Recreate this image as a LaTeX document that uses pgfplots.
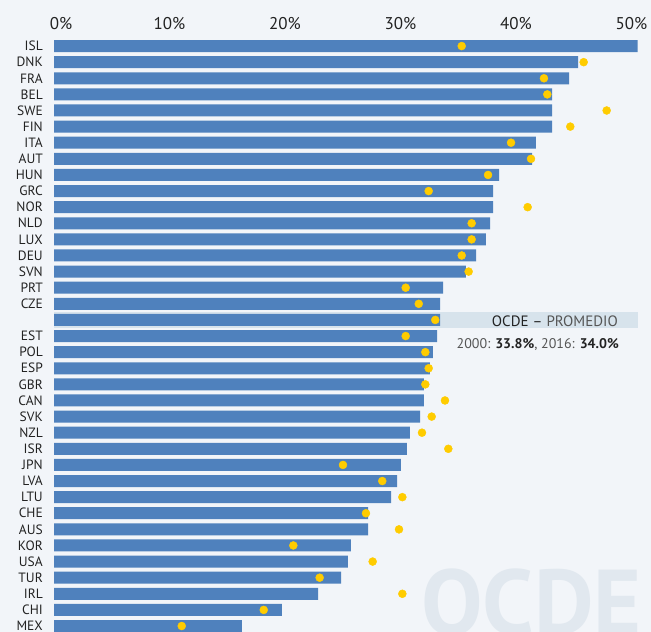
\documentclass[border=0pt]{standalone}
\usepackage{pgfplots}
\pgfplotsset{compat=1.18}
\usepackage{pgfplotstable}
\usepackage{fontspec}
\setmainfont{PT Sans}
\definecolor{bg}{HTML}{F2F5F9}
\definecolor{barblue}{HTML}{4F81BD}
\definecolor{dotyellow}{HTML}{FFCC00}
\definecolor{band}{HTML}{D7E3EC}
\definecolor{wm}{HTML}{E1E8EF}
\definecolor{txtdark}{HTML}{222222}
\definecolor{txtgray}{HTML}{555555}
\pgfplotstableread{
idx v2016 v2000
0 50.53 35.30
1 45.37 45.86
2 44.59 42.42
3 43.12 42.71
4 43.12 47.85
5 43.12 44.70
6 41.73 39.57
7 41.39 41.30
8 38.53 37.58
9 38.01 32.44
10 38.01 41.01
11 37.75 36.16
12 37.40 36.16
13 36.54 35.30
14 35.67 35.90
15 33.68 30.45
16 33.42 31.58
17 33.42 33.01
18 33.16 30.45
19 32.81 32.15
20 32.55 32.44
21 32.03 32.15
22 32.03 33.85
23 31.69 32.70
24 30.82 31.86
25 30.56 34.14
26 30.04 25.02
27 29.70 28.42
28 29.18 30.16
29 27.19 27.01
30 27.19 29.87
31 25.71 20.72
32 25.45 27.59
33 24.85 23.00
34 22.86 30.16
35 19.74 18.16
36 16.26 11.06
}\data
\begin{document}
\begin{tikzpicture}
\useasboundingbox (0,0) rectangle (651pt,632pt);
\clip (0,0) rectangle (651pt,632pt);
\fill[bg] (0,0) rectangle (651pt,632pt);
\node[anchor=base west, inner sep=0pt, text=wm, font=\fontsize{92}{92}\selectfont\bfseries] at (421pt,-3pt) {OCDE};
\begin{axis}[
  at={(54pt,594pt)}, anchor=north west,
  x=11.55pt, y=16.11pt, y dir=reverse,
  xmin=0, xmax=50.6, ymin=-0.5, ymax=36.5,
  enlargelimits=false, clip=false,
  axis line style={draw=none},
  tick style={draw=none}, major tick length=0pt,
  xtick={0,10,20,30,40,50},
  xticklabels={\hspace*{14pt}0\%,10\%,20\%,30\%,40\%,50\%},
  xticklabel pos=upper,
  xticklabel style={anchor=south, inner sep=0pt, yshift=8pt, font=\fontsize{17}{17}\selectfont, text=txtdark},
  ytick={0,...,36},
  yticklabels={ISL,DNK,FRA,BEL,SWE,FIN,ITA,AUT,HUN,GRC,NOR,NLD,LUX,DEU,SVN,PRT,CZE,{},EST,POL,ESP,GBR,CAN,SVK,NZL,ISR,JPN,LVA,LTU,CHE,AUS,KOR,USA,TUR,IRL,CHI,MEX},
  yticklabel style={anchor=east, inner sep=0pt, xshift=-11pt, font=\fontsize{13.5}{13.5}\selectfont, text=txtdark},
]
\addplot[xbar, bar shift=0pt, bar width=16.7pt, fill=band, draw=none] coordinates {(50.6,17)};
\addplot[xbar, bar shift=0pt, bar width=12pt, fill=barblue, draw=none] table[x=v2016, y=idx] {\data};
\addplot[only marks, mark=*, mark size=4pt, color=dotyellow, mark options={draw=none, fill=dotyellow}] table[x=v2000, y=idx] {\data};
\end{axis}
\node[anchor=base east, inner sep=0pt, font=\fontsize{15}{15}\selectfont] at (618pt,305.8pt) {\textcolor{txtdark}{OCDE –} \textcolor{txtgray}{PROMEDIO}};
\node[anchor=base east, inner sep=0pt, font=\fontsize{14}{14}\selectfont, text=txtgray] at (619pt,283.7pt) {2000: \textcolor{txtdark}{\bfseries 33.8\%}, 2016: \textcolor{txtdark}{\bfseries 34.0\%}};
\end{tikzpicture}
\end{document}
